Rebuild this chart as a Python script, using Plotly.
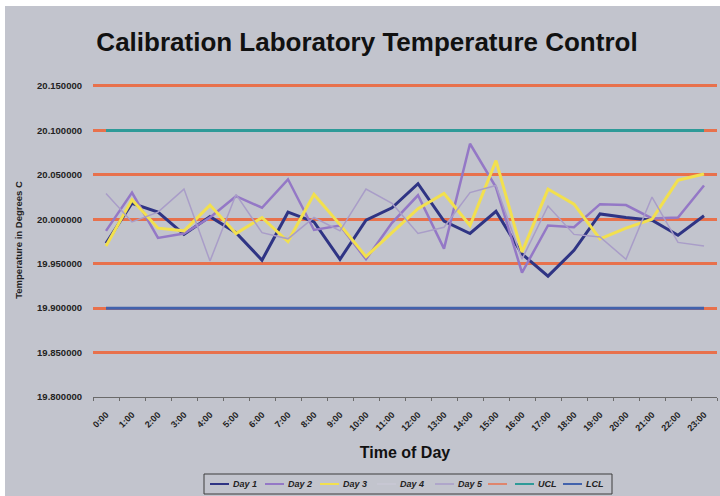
import plotly.graph_objects as go

times = [f"{h}:00" for h in range(24)]

day1 = [19.973, 20.018, 20.008, 19.983, 20.003, 19.985, 19.954, 20.008, 19.997, 19.955,
        19.999, 20.013, 20.040, 19.998, 19.984, 20.009, 19.961, 19.936, 19.965, 20.006,
        20.002, 19.999, 19.982, 20.004]
day2 = [19.987, 20.030, 19.979, 19.984, 20.002, 20.026, 20.013, 20.045, 19.988, 19.993,
        19.955, 19.996, 20.027, 19.967, 20.085, 20.036, 19.940, 19.993, 19.991, 20.017,
        20.016, 20.001, 20.002, 20.038]
day3 = [19.970, 20.022, 19.990, 19.987, 20.016, 19.984, 20.002, 19.975, 20.028, 19.994,
        19.958, 19.985, 20.012, 20.029, 19.993, 20.066, 19.963, 20.034, 20.017, 19.978,
        19.990, 20.000, 20.044, 20.051]
day4 = [None] * 24
day5 = [20.029, 19.997, 20.008, 20.034, 19.953, 20.028, 19.985, 19.978, 20.002, 19.987,
        20.034, 20.018, 19.984, 19.991, 20.030, 20.038, 19.955, 20.015, 19.983, 19.980,
        19.955, 20.025, 19.974, 19.970]
UCL = 20.10
LCL = 19.90
ucl = [UCL] * len(times)
lcl = [LCL] * len(times)

BG = "#c2c4cd"
ORANGE = "#e8714c"
FONT = "Liberation Sans, Arial, sans-serif"

W, H = 720, 496
ML, MR, MT, MB = 93, 3, 83, 99
PW, PH = W - ML - MR, H - MT - MB


def px(x):
    return (x - ML) / PW


def py(y):
    return (H - MB - y) / PH


fig = go.Figure()
series = [
    ("Day 1", day1, "#2f3484", 3),
    ("Day 2", day2, "#9478c6", 2.5),
    ("Day 3", day3, "#f2e04e", 3),
    ("Day 4", day4, "#c8c8d4", 1.5),
    ("Day 5", day5, "#a99dc8", 1.5),
    ("", [None] * len(times), ORANGE, 2),
    ("UCL", ucl, "#2e9a98", 3),
    ("LCL", lcl, "#4262ac", 3),
]
for name, vals, col, w in series:
    fig.add_trace(go.Scatter(x=times, y=vals, mode="lines", name=name,
                             line=dict(color=col, width=w), showlegend=False))

# custom compact legend (Excel style)
legend_x = [210, 265, 320, 377, 435, 488, 515, 563]
legend_y = 484
shapes = [
    dict(type="rect", xref="paper", yref="paper", x0=px(204), x1=px(612),
         y0=py(494), y1=py(474), fillcolor=BG, line=dict(color="#3c3c3c", width=1),
         layer="above"),
]
annotations = []
for (name, vals, col, w), lx in zip(series, legend_x):
    shapes.append(dict(type="line", xref="paper", yref="paper", x0=px(lx), x1=px(lx + 19),
                       y0=py(legend_y), y1=py(legend_y),
                       line=dict(color=col, width=2 if w >= 2.5 else 1.5), layer="above"))
    if name:
        annotations.append(dict(text=name, xref="paper", yref="paper", x=px(lx + 21),
                                y=py(legend_y), xanchor="left", yanchor="middle",
                                showarrow=False,
                                font=dict(size=9, style="italic", weight="bold",
                                          color="#222222")))

# white page border at top/left, as in the scanned original
shapes += [
    dict(type="rect", xref="paper", yref="paper", x0=px(-50), x1=px(5),
         y0=py(600), y1=py(-100), fillcolor="white", line=dict(width=0), layer="above"),
    dict(type="rect", xref="paper", yref="paper", x0=px(-50), x1=px(800),
         y0=py(6), y1=py(-100), fillcolor="white", line=dict(width=0), layer="above"),
]

fig.update_layout(
    width=W, height=H,
    margin=dict(l=ML, r=MR, t=MT, b=MB),
    paper_bgcolor=BG, plot_bgcolor=BG,
    font=dict(family=FONT, color="#222222"),
    title=dict(text="Calibration Laboratory Temperature Control",
               x=px(367), xanchor="center", y=1 - 42 / H, yanchor="middle",
               xref="paper",
               font=dict(size=26, family=FONT, color="#111111", weight="bold")),
    showlegend=False,
    hovermode=False,
    xaxis=dict(
        type="category", showgrid=False, showline=True, linecolor="#6a6a6a", linewidth=1,
        ticks="outside", tickson="boundaries", ticklen=3, tickcolor="#6a6a6a",
        tickangle=-45, ticklabelstandoff=8,
        tickfont=dict(size=9, weight="bold", color="#222222"),
        title=dict(text="Time of Day", font=dict(size=16, weight="bold", color="#111111"),
                   standoff=14),
        range=[-0.5, 23.5], fixedrange=True,
    ),
    yaxis=dict(
        range=[19.8, 20.15337], dtick=0.05, tick0=19.8, tickformat=".6f",
        showgrid=True, gridcolor=ORANGE, gridwidth=3, zeroline=False, showline=False,
        tickfont=dict(size=9.5, weight="bold", color="#222222"), ticks="",
        ticklabelstandoff=10, fixedrange=True,
        title=dict(text="Temperature in Degrees C",
                   font=dict(size=9.5, weight="bold", color="#222222"), standoff=12),
    ),
    shapes=shapes,
    annotations=annotations,
)

fig.write_html("out.html", config={"displayModeBar": False, "staticPlot": True},
               post_script="document.body.style.margin='0';")
